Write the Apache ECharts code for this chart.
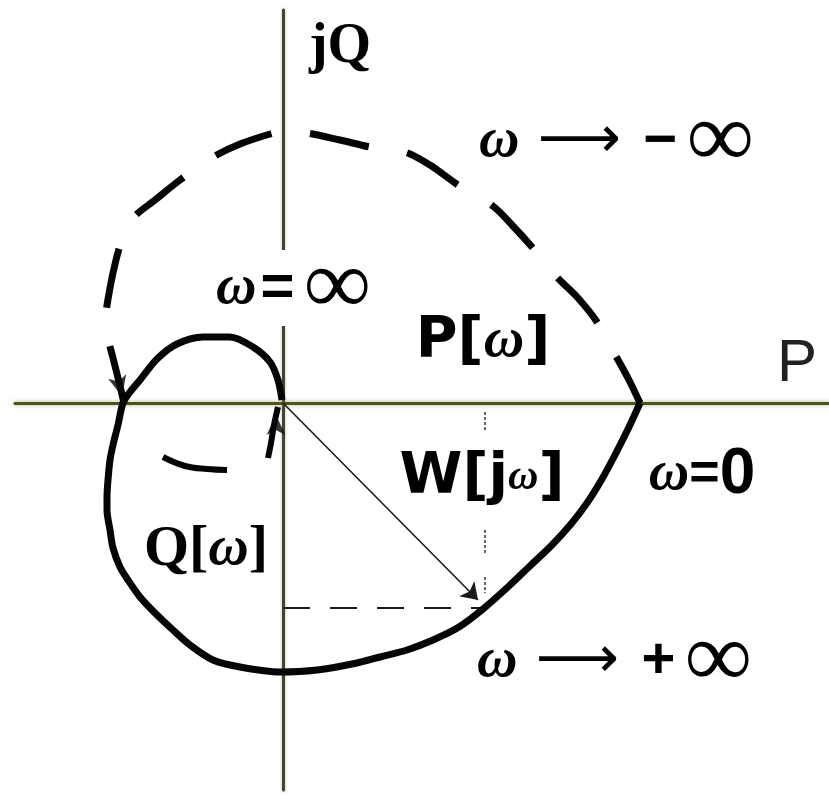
<!DOCTYPE html>
<html>
<head>
<meta charset="utf-8">
<script src="https://cdn.jsdelivr.net/npm/echarts@6/dist/echarts.min.js"></script>
<style>
  html, body { margin: 0; padding: 0; background: #fff; }
  #chart { width: 829px; height: 799px; }
</style>
</head>
<body>
<div id="chart"></div>
<script>
// Nyquist locus W(jω) = P(ω) + jQ(ω), plane units: P to the right, jQ upwards.

// ω from 0 to +∞ (solid branch), points [P, Q]
const branchPositive = [
  [3.57, 0.00], [3.46, -0.24], [3.33, -0.50], [3.19, -0.76], [3.04, -1.00],
  [2.88, -1.21], [2.69, -1.42], [2.48, -1.62], [2.26, -1.83], [2.00, -2.06],
  [1.76, -2.24], [1.50, -2.37], [1.24, -2.47], [0.97, -2.54], [0.74, -2.60],
  [0.34, -2.67], [-0.03, -2.69], [-0.43, -2.64], [-0.70, -2.57], [-0.93, -2.42],
  [-1.10, -2.27], [-1.28, -2.10], [-1.43, -1.94], [-1.55, -1.77], [-1.63, -1.64],
  [-1.70, -1.45], [-1.73, -1.27], [-1.76, -1.07], [-1.76, -0.94], [-1.75, -0.77],
  [-1.73, -0.57], [-1.70, -0.42], [-1.65, -0.22], [-1.60, 0.00], [-1.53, 0.11],
  [-1.43, 0.23], [-1.26, 0.44], [-1.06, 0.59], [-0.80, 0.66], [-0.53, 0.66],
  [-0.30, 0.56], [-0.13, 0.41], [-0.05, 0.23], [-0.01, 0.03]
];

// ω from -∞ to 0 (dashed branch): large arc above the P axis
const branchNegativeArc = [
  [3.57, 0.00], [3.46, 0.23], [3.34, 0.45], [3.14, 0.81], [2.95, 1.05],
  [2.74, 1.26], [2.49, 1.56], [2.29, 1.78], [2.11, 1.96], [1.75, 2.18],
  [1.47, 2.38], [1.22, 2.51], [0.87, 2.56], [0.57, 2.63], [0.24, 2.70],
  [0.00, 2.72], [-0.13, 2.69], [-0.43, 2.59], [-0.70, 2.46], [-1.03, 2.23],
  [-1.28, 2.03], [-1.50, 1.85], [-1.61, 1.63], [-1.67, 1.43], [-1.73, 1.15],
  [-1.77, 0.86], [-1.75, 0.65], [-1.70, 0.45], [-1.64, 0.21], [-1.59, 0.00]
];

// dashed branch near the origin, below the P axis
const branchNegativeNear = [[-0.05, -0.04], [-0.09, -0.22], [-0.12, -0.40], [-0.15, -0.55]];
const branchNegativeLoop = [[-0.56, -0.67], [-0.76, -0.66], [-0.98, -0.63], [-1.20, -0.54]];

// direction arrows on the dashed branch
const directionArrows = [
  { at: [-0.07, -0.12], rotate: 0 },
  { at: [-1.61, 0.07], rotate: 194 }
];

// vector W(jω) to the point at a given ω, with its projection
const vectorTip = [1.95, -1.97];
const projectionQ = [[0, -2.05], [1.98, -2.05]];
const projectionMarks = [
  [[2.02, -0.09], [2.02, -0.27]],
  [[2.02, -1.27], [2.02, -1.50]],
  [[2.02, -1.74], [2.02, -1.90]]
];

// annotations: [P, Q, rich text]
const annotations = [
  [0.57, 3.55, '{serif|jQ}'],
  [3.33, 2.61, '{w|ω}{arr| ⟶ }{op|−}{inf|∞}'],
  [0.10, 1.15, '{w|ω}{op|=}{inf|∞}'],
  [2.00, 0.61, '{bold|P[}{w|ω}{bold|]}'],
  [5.14, 0.39, '{thin|P}'],
  [1.99, -0.75, '{bold|W[j}{ws|ω}{bold|]}'],
  [4.19, -0.72, '{w|ω}{eq|=}{zero|0}'],
  [-0.77, -1.47, '{serifq|Q[}{w|ω}{serifq|]}'],
  [3.31, -2.59, '{w|ω}{arr| ⟶ }{op|+}{inf|∞}']
];

const ink = '#000000';
const rich = {
  serif: { fontFamily: 'Liberation Serif', fontWeight: 'bold', fontSize: 56, color: ink, lineHeight: 56 },
  serifq: { fontFamily: 'Liberation Serif', fontWeight: 'bold', fontSize: 58, color: ink, lineHeight: 50 },
  w: { fontFamily: 'Liberation Serif', fontStyle: 'italic', fontWeight: 'bold', fontSize: 56, color: ink, lineHeight: 44 },
  ws: { fontFamily: 'Liberation Serif', fontStyle: 'italic', fontWeight: 'bold', fontSize: 42, color: ink, lineHeight: 44 },
  arr: { fontFamily: 'DejaVu Sans', fontSize: 58, color: ink, lineHeight: 44 },
  op: { fontFamily: 'Liberation Sans', fontWeight: 'bold', fontSize: 58, color: ink, lineHeight: 44, padding: [0, 10, 0, 4] },
  eq: { fontFamily: 'Liberation Sans', fontWeight: 'bold', fontSize: 52, color: ink, lineHeight: 44 },
  inf: { fontFamily: 'Liberation Serif', fontWeight: 'bold', fontSize: 92, color: ink, lineHeight: 44 },
  zero: { fontFamily: 'Liberation Sans', fontWeight: 'bold', fontSize: 64, color: ink, lineHeight: 44 },
  bold: { fontFamily: 'DejaVu Sans', fontWeight: 'bold', fontSize: 57, color: ink, lineHeight: 50 },
  thin: { fontFamily: 'Liberation Sans', fontSize: 60, color: '#222', lineHeight: 50 }
};

const chart = echarts.init(document.getElementById('chart'), null, { renderer: 'canvas' });

const curveStyle = { color: '#050505', width: 7, cap: 'butt', join: 'round' };

chart.setOption({
  animation: false,
  backgroundColor: '#ffffff',
  grid: { left: 15, right: 0, top: 10, bottom: 9 },
  xAxis: {
    type: 'value', min: -2.68, max: 5.46,
    axisLine: { onZero: true, lineStyle: { color: '#4e521c', width: 3, shadowColor: 'rgba(120,125,50,0.6)', shadowBlur: 4 } },
    axisTick: { show: false }, axisLabel: { show: false }, splitLine: { show: false }
  },
  yAxis: {
    type: 'value', min: -3.87, max: 3.93,
    axisLine: { onZero: true, lineStyle: { color: '#45452e', width: 3, shadowColor: 'rgba(110,110,70,0.5)', shadowBlur: 3 } },
    axisTick: { show: false }, axisLabel: { show: false }, splitLine: { show: false }
  },
  series: [
    {
      name: 'ω > 0', type: 'line', data: branchPositive, showSymbol: false, smooth: 0.3,
      lineStyle: curveStyle, z: 3
    },
    {
      name: 'ω < 0 arc', type: 'line', data: branchNegativeArc, showSymbol: false, smooth: 0.3,
      lineStyle: Object.assign({}, curveStyle, { type: [60, 39], dashOffset: 8 }), z: 3
    },
    {
      name: 'ω < 0 near origin', type: 'line', data: branchNegativeNear, showSymbol: false, smooth: 0.3,
      lineStyle: Object.assign({}, curveStyle, { width: 6 }), z: 3
    },
    {
      name: 'ω < 0 loop', type: 'line', data: branchNegativeLoop, showSymbol: false, smooth: 0.4,
      lineStyle: Object.assign({}, curveStyle, { width: 6 }), z: 3
    },
    {
      name: 'direction', type: 'scatter', symbol: 'arrow', symbolSize: [14, 20],
      data: directionArrows.map(a => ({ value: a.at, symbolRotate: a.rotate })),
      itemStyle: { color: '#050505' }, z: 4
    },
    {
      name: 'W(jω)', type: 'lines', coordinateSystem: 'cartesian2d',
      data: [{ coords: [[0, 0], vectorTip] }],
      symbol: ['none', 'arrow'], symbolSize: 16,
      lineStyle: { color: '#1a1a1a', width: 1.6, opacity: 1 }, z: 4
    },
    {
      name: 'Q projection', type: 'line', data: projectionQ, showSymbol: false,
      lineStyle: { color: '#1a1a1a', width: 1.8, type: [27, 20] }, z: 2
    },
    {
      name: 'P projection', type: 'lines', coordinateSystem: 'cartesian2d',
      data: projectionMarks.map(c => ({ coords: c })),
      lineStyle: { color: '#333', width: 1.5, type: [3, 2], opacity: 1 }, z: 2
    },
    {
      name: 'labels', type: 'scatter', symbolSize: 0, z: 5,
      itemStyle: { color: '#000', opacity: 1 },
      data: annotations.map((a, i) => ({
        value: [a[0], a[1]],
        label: {
          show: true, position: 'inside', formatter: a[2], rich: rich,
          color: ink, textBorderWidth: 0, opacity: 1,
          backgroundColor: i === 2 ? '#ffffff' : 'transparent',
          padding: i === 2 ? [17, 4, 15, 4] : 0
        }
      }))
    }
  ]
});
</script>
</body>
</html>
